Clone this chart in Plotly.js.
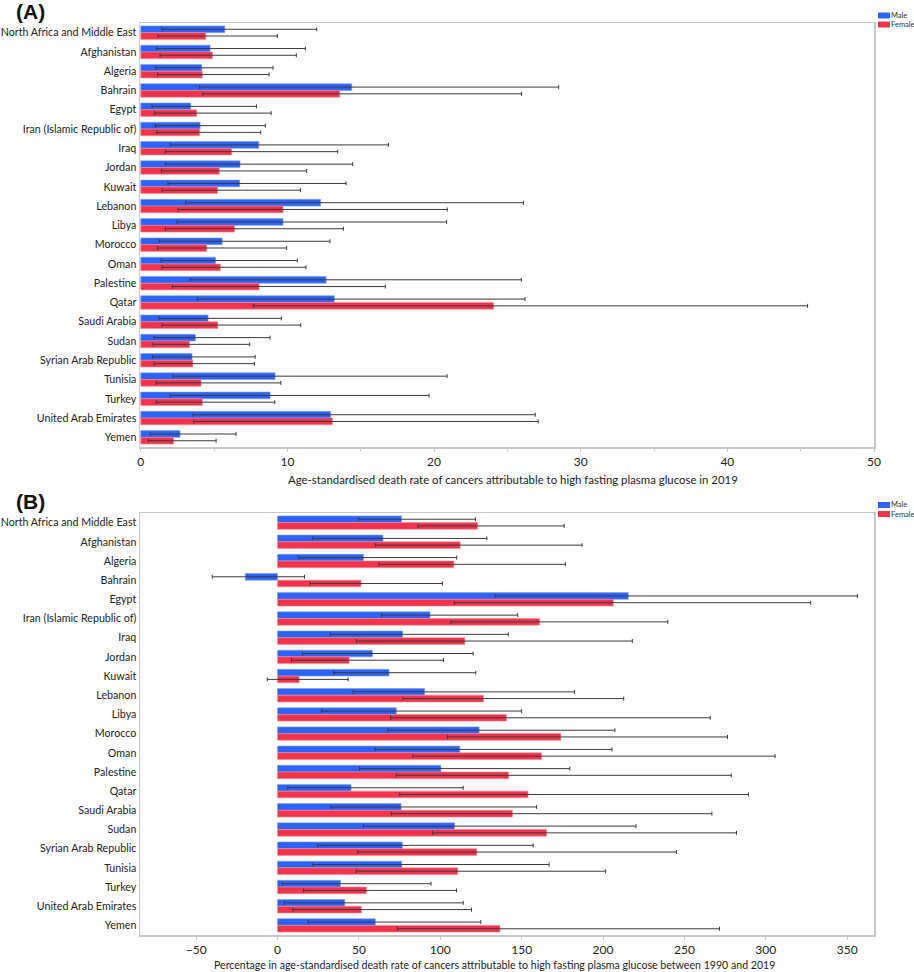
<!DOCTYPE html>
<html>
<head>
<meta charset="utf-8">
<script src="https://cdn.plot.ly/plotly-3.0.1.min.js"></script>
<style>
html,body{margin:0;padding:0;background:#fff;}
#chart{width:914px;height:972px;}
</style>
</head>
<body>
<div id="chart"></div>
<script>
const categories = ["North Africa and Middle East","Afghanistan","Algeria","Bahrain","Egypt","Iran (Islamic Republic of)","Iraq","Jordan","Kuwait","Lebanon","Libya","Morocco","Oman","Palestine","Qatar","Saudi Arabia","Sudan","Syrian Arab Republic","Tunisia","Turkey","United Arab Emirates","Yemen"];

// Panel A: age-standardised death rate 2019
const maleRate    = [5.73,4.73,4.16,14.39,3.41,4.05,8.05,6.77,6.75,12.27,9.70,5.55,5.11,12.64,13.20,4.59,3.73,3.50,9.16,8.82,12.95,2.68];
const maleRateLo  = [1.45,1.09,1.02,4.02,0.77,1.00,2.02,1.68,1.86,3.07,2.48,1.25,1.39,3.36,3.86,1.25,0.91,0.80,2.20,2.00,3.57,0.64];
const maleRateHi  = [12.0,11.23,9.02,28.5,7.89,8.5,16.89,14.45,14.0,26.1,20.86,12.9,10.68,25.95,26.2,9.59,8.82,7.8,20.89,19.66,26.9,6.5];
const femaleRate   = [4.43,4.89,4.20,13.57,3.82,4.02,6.20,5.36,5.23,9.70,6.39,4.50,5.43,8.07,24.06,5.25,3.32,3.55,4.11,4.20,13.07,2.23];
const femaleRateLo = [1.18,1.32,1.14,4.23,0.95,1.09,1.68,1.41,1.45,2.55,1.68,1.14,1.45,2.16,7.68,1.45,0.84,0.91,1.05,1.05,3.61,0.52];
const femaleRateHi = [9.32,10.61,8.75,25.97,8.89,8.18,13.43,11.32,10.89,20.9,13.82,9.95,11.27,16.68,45.47,10.91,7.43,7.75,9.55,9.14,27.1,5.14];

// Panel B: percentage change 1990-2019
const maleChange    = [76.1,64.8,52.8,-19.8,215.5,93.7,76.9,58.3,68.5,90.4,73.0,123.9,112.0,100.4,45.2,75.9,108.8,76.7,76.3,38.7,41.3,60.1];
const maleChangeLo  = [49.7,21.7,13.3,-40.1,133.7,64.0,32.5,15.3,34.6,46.4,27.0,67.9,59.9,50.3,6.3,32.9,52.8,24.7,21.7,2.9,4.1,18.8];
const maleChangeHi  = [121.6,128.6,110.1,16.6,356.3,147.6,141.8,120.2,121.8,182.4,150.0,207.3,205.5,179.6,114.1,159.2,220.2,157.1,166.9,94.3,114.1,124.9];
const femaleChange   = [122.9,112.2,108.3,51.3,206.3,161.0,115.1,44.0,13.3,126.5,140.6,174.1,162.2,142.0,153.9,144.3,165.3,122.4,110.7,54.6,51.5,136.7];
const femaleChangeLo = [86.3,60.3,62.4,20.0,108.6,106.5,48.5,8.6,-6.3,77.1,69.5,104.5,83.2,73.0,75.1,69.9,95.3,49.3,48.5,16.0,9.4,73.6];
const femaleChangeHi = [176.1,187.1,176.9,101.4,327.6,239.8,218.0,102.0,43.4,212.7,265.9,276.5,305.7,278.8,289.4,266.9,282.0,245.1,201.6,110.0,119.2,271.6];

const seriesNames = ["Male", "Female"];
const xTitleA = "Age-standardised death rate of cancers attributable to high fasting plasma glucose in 2019";
const xTitleB = "Percentage in age-standardised death rate of cancers attributable to high fasting plasma glucose between 1990 and 2019";

const BLUE = '#2c63ff', RED = '#f2334c';
const COLORS = [BLUE, RED];
const FONT = 'Lato, Open Sans, sans-serif';

function errs(val, lo, hi) {
  return {
    type: 'data', symmetric: false,
    array: hi.map((h, i) => h - val[i]),
    arrayminus: lo.map((l, i) => val[i] - l),
    color: '#3a3a3a', thickness: 1, width: 2
  };
}
function barTrace(name, vals, lo, hi, color, xa, ya) {
  return {
    type: 'bar', orientation: 'h', name: name,
    x: vals, y: categories, xaxis: xa, yaxis: ya, showlegend: false,
    marker: {color: color, line: {color: color === BLUE ? '#7fa0ff' : '#ff8a99', width: 0.6}},
    error_x: errs(vals, lo, hi),
    hoverinfo: 'x+y'
  };
}

const data = [
  barTrace(seriesNames[0], maleRate, maleRateLo, maleRateHi, BLUE, 'x', 'y'),
  barTrace(seriesNames[1], femaleRate, femaleRateLo, femaleRateHi, RED, 'x', 'y'),
  barTrace(seriesNames[0], maleChange, maleChangeLo, maleChangeHi, BLUE, 'x2', 'y2'),
  barTrace(seriesNames[1], femaleChange, femaleChangeLo, femaleChangeHi, RED, 'x2', 'y2')
];

// plot-area geometry in pixels
const L = 140, R = 874, T = 23, B = 935;
const px2x = p => (p - L) / (R - L);
const px2y = p => (B - p) / (B - T);

const axisLine = {showline: true, linecolor: '#c8c8c8', linewidth: 1.5, mirror: true, showgrid: false, zeroline: false};
const tickFont = {family: FONT, size: 12, color: '#222'};
const catFont = {family: FONT, size: 10.7, color: '#222'};

// manual legends (swatch + label) for each panel
const shapes = [], annotations = [];
[[12.5, 21.5], [502, 511]].forEach(tops => {
  tops.forEach((top, k) => {
    shapes.push({type: 'rect', xref: 'paper', yref: 'paper',
      x0: px2x(878), x1: px2x(890), y0: px2y(top + 6), y1: px2y(top),
      fillcolor: COLORS[k], line: {width: 0}});
    annotations.push({text: seriesNames[k], xref: 'paper', yref: 'paper',
      x: px2x(889.5), y: px2y(top + 3), xanchor: 'left', yanchor: 'middle',
      showarrow: false, borderpad: 0, font: {family: FONT, size: 7.5, color: '#333'}});
  });
});
annotations.push(
  {text: '<b>(A)</b>', xref: 'paper', yref: 'paper', x: px2x(14), y: px2y(23), xanchor: 'left', yanchor: 'bottom',
   showarrow: false, font: {family: 'Arial, Liberation Sans, sans-serif', size: 21, color: '#111'}, yshift: -2},
  {text: '<b>(B)</b>', xref: 'paper', yref: 'paper', x: px2x(14), y: px2y(513), xanchor: 'left', yanchor: 'bottom',
   showarrow: false, font: {family: 'Arial, Liberation Sans, sans-serif', size: 21, color: '#111'}, yshift: -2},
  {text: xTitleA, xref: 'paper', yref: 'paper', x: px2x(513), y: px2y(479.5), xanchor: 'center', yanchor: 'middle',
   showarrow: false, font: {family: FONT, size: 11.4, color: '#222'}},
  {text: xTitleB, xref: 'paper', yref: 'paper', x: px2x(494), y: px2y(964.5), xanchor: 'center', yanchor: 'middle',
   showarrow: false, font: {family: FONT, size: 10.6, color: '#222'}}
);

const layout = {
  width: 914, height: 972,
  margin: {l: L, r: 914 - R, t: T, b: 972 - B, autoexpand: false},
  paper_bgcolor: '#fff', plot_bgcolor: '#fff',
  font: {family: FONT, color: '#222'},
  barmode: 'group', bargap: 0.3, bargroupgap: 0,
  showlegend: false,
  xaxis: Object.assign({}, axisLine, {
    anchor: 'y', domain: [0, 1], range: [-0.05, 50], dtick: 10,
    ticks: 'outside', ticklen: 3, tickcolor: '#c8c8c8',
    minor: {dtick: 5, ticks: 'outside', ticklen: 2, tickcolor: '#c8c8c8'},
    tickfont: tickFont
  }),
  yaxis: Object.assign({}, axisLine, {
    anchor: 'x', domain: [px2y(447), 1], type: 'category', autorange: 'reversed',
    ticks: '', tickfont: catFont, ticklabelstandoff: 0
  }),
  xaxis2: Object.assign({}, axisLine, {
    anchor: 'y2', domain: [0, 1], range: [-84.5, 366.5], dtick: 50,
    ticks: 'outside', ticklen: 3, tickcolor: '#c8c8c8',
    tickfont: tickFont
  }),
  yaxis2: Object.assign({}, axisLine, {
    anchor: 'x2', domain: [0, px2y(513)], type: 'category', autorange: 'reversed',
    ticks: '', tickfont: catFont, ticklabelstandoff: 0
  }),
  shapes: shapes,
  annotations: annotations
};

Plotly.newPlot('chart', data, layout, {displayModeBar: false, staticPlot: true});
</script>
</body>
</html>
